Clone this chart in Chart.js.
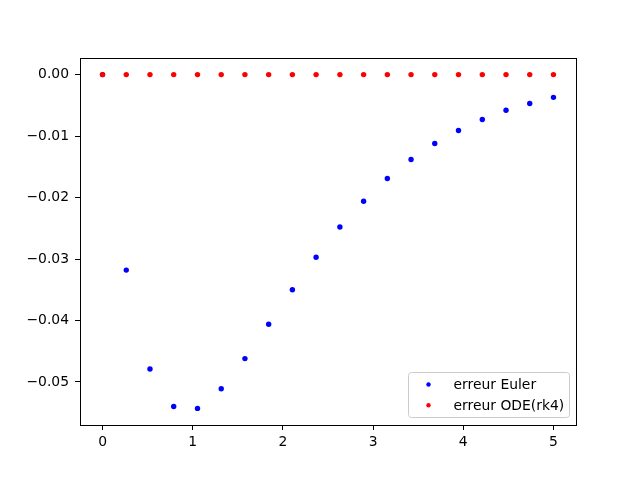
<!DOCTYPE html>
<html>
<head>
<meta charset="utf-8">
<script src="https://cdn.jsdelivr.net/npm/chart.js@4"></script>
<style>
  html, body { margin: 0; padding: 0; background: #fff; }
  #wrap { width: 640px; height: 478px; }
</style>
</head>
<body>
<div id="wrap"><canvas id="c" width="640" height="478"></canvas></div>
<script>
// Data
const tValues = [0, 0.263, 0.526, 0.789, 1.053, 1.316, 1.579, 1.842, 2.105, 2.368,
                 2.632, 2.895, 3.158, 3.421, 3.684, 3.947, 4.211, 4.474, 4.737, 5];
const eulerErr = [0, -0.0318, -0.0479, -0.0540, -0.0543, -0.0511, -0.0462, -0.0406, -0.0350, -0.0297,
                  -0.0248, -0.0206, -0.0169, -0.0138, -0.0112, -0.0091, -0.0073, -0.0058, -0.0047, -0.0037];
const rk4Err = [0, 0, 0, 0, 0, 0, 0, 0, 0, 0, 0, 0, 0, 0, 0, 0, 0, 0, 0, 0];
const xTicks = [0, 1, 2, 3, 4, 5];
const yTicks = [0, -0.01, -0.02, -0.03, -0.04, -0.05];

const FONT = { family: 'DejaVu Sans', size: 13.9 };
const toPts = ys => ys.map((y, i) => ({ x: tValues[i], y }));

// frame around the plot area
const frame = {
  id: 'frame',
  afterDatasetsDraw(chart) {
    const a = chart.chartArea, ctx = chart.ctx;
    ctx.save();
    ctx.strokeStyle = '#000';
    ctx.lineWidth = 1;
    ctx.strokeRect(Math.round(a.left) + 0.5, Math.round(a.top) + 0.5,
                   Math.round(a.right - a.left), Math.round(a.bottom - a.top));
    ctx.restore();
  }
};

// matplotlib style legend, lower right inside the axes
const boxLegend = {
  id: 'boxLegend',
  afterDraw(chart) {
    const a = chart.chartArea, ctx = chart.ctx;
    const w = 161, h = 45;
    const x = a.right - 6.5 - w, y = a.bottom - 7.5 - h;
    ctx.save();
    ctx.beginPath();
    ctx.roundRect(x, y, w, h, 3);
    ctx.fillStyle = 'rgba(255,255,255,0.8)';
    ctx.fill();
    ctx.strokeStyle = '#cccccc';
    ctx.lineWidth = 1;
    ctx.stroke();
    ctx.font = FONT.size + 'px "' + FONT.family + '"';
    ctx.textBaseline = 'middle';
    chart.data.datasets.forEach((ds, i) => {
      const cy = y + 12 + i * 20.7;
      ctx.beginPath();
      ctx.arc(x + 20, cy, 2.2, 0, Math.PI * 2);
      ctx.fillStyle = ds.backgroundColor;
      ctx.fill();
      ctx.fillStyle = '#000';
      ctx.fillText(ds.label, x + 45, cy + 1);
    });
    ctx.restore();
  }
};

new Chart(document.getElementById('c'), {
  type: 'scatter',
  data: {
    datasets: [
      { label: 'erreur Euler', data: toPts(eulerErr), backgroundColor: '#0000ff',
        borderWidth: 0, pointRadius: 2.7, order: 2 },
      { label: 'erreur ODE(rk4)', data: toPts(rk4Err), backgroundColor: '#ff0000',
        borderWidth: 0, pointRadius: 2.7, order: 1 }
    ]
  },
  options: {
    responsive: false,
    animation: false,
    events: [],
    layout: { padding: { top: 58, right: 64, left: 0, bottom: 0 } },
    plugins: { legend: { display: false }, tooltip: { enabled: false } },
    scales: {
      x: {
        type: 'linear', min: -0.25, max: 5.25,
        afterFit: s => { s.height = 53; },
        afterBuildTicks: s => { s.ticks = xTicks.map(v => ({ value: v })); },
        grid: { drawOnChartArea: false, color: '#000', tickLength: 5, tickWidth: 1 },
        border: { display: false },
        ticks: { color: '#000', font: FONT, padding: 4, maxRotation: 0,
                 callback: v => String(v) }
      },
      y: {
        type: 'linear', min: -0.0570, max: 0.0027,
        afterFit: s => { s.width = 80; },
        afterBuildTicks: s => { s.ticks = yTicks.map(v => ({ value: v })); },
        grid: { drawOnChartArea: false, color: '#000', tickLength: 5, tickWidth: 1 },
        border: { display: false },
        ticks: { color: '#000', font: FONT, padding: 6,
                 callback: v => v.toFixed(2).replace('-', '\u2212') }
      }
    }
  },
  plugins: [frame, boxLegend]
});
</script>
</body>
</html>
